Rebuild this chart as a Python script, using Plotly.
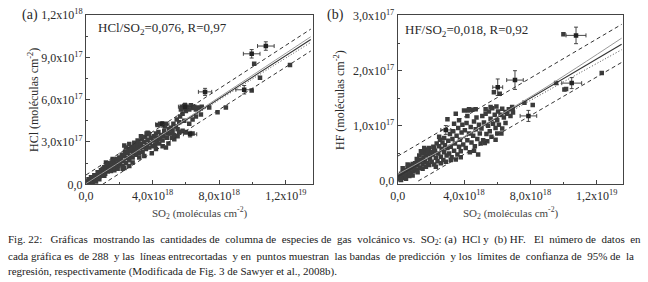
import plotly.graph_objects as go

W, H = 648, 282
XU = 1e18   # SO2 unit
YA = 1e17   # HCl unit
YB = 1e16   # HF unit

# ---- panel (a) HCl vs SO2 : (SO2 [1e18], HCl [1e17]) ----
hcl_points = [
    (0.05,0.1),(0.1,0.05),(0.12,0.2),(0.2,0.15),(0.25,0.3),(0.3,0.1),(0.35,0.35),(0.4,0.25),(0.45,0.45),(0.5,0.3),
    (0.55,0.5),(0.6,0.4),(0.65,0.6),(0.7,0.45),(0.75,0.7),(0.8,0.55),(0.85,0.8),(0.9,0.6),(0.95,0.85),(1.0,0.7),
    (0.15,0.35),(0.3,0.5),(0.5,0.65),(0.7,0.85),(0.9,1.0),(1.0,1.1),(0.2,0.0),(0.4,0.1),(0.6,0.2),(0.8,0.35),
    (1.05,0.9),(1.1,1.2),(1.15,0.75),(1.2,1.0),(1.25,1.3),(1.3,0.9),(1.35,1.1),(1.4,1.4),(1.45,1.0),(1.5,1.25),
    (1.55,1.55),(1.6,1.1),(1.65,1.35),(1.7,1.7),(1.75,1.2),(1.8,1.45),(1.85,1.8),(1.9,1.3),(1.95,1.6),(2.0,1.9),
    (1.1,0.6),(1.3,1.5),(1.5,0.95),(1.7,1.0),(1.9,1.1),(1.2,1.55),(1.6,1.8),(2.0,1.4),
    (2.05,1.5),(2.1,1.8),(2.15,2.1),(2.2,1.3),(2.25,1.65),(2.3,2.0),(2.35,2.3),(2.4,1.5),(2.45,1.85),(2.5,2.2),
    (2.55,2.5),(2.6,1.7),(2.65,2.0),(2.7,2.35),(2.75,2.65),(2.8,1.9),(2.85,2.2),(2.9,2.5),(2.95,2.8),(3.0,2.1),
    (2.2,1.1),(2.4,2.6),(2.6,1.3),(2.8,1.55),(3.0,2.45),(2.3,1.15),(2.3,2.75),(2.6,2.85),(2.9,2.95),
    (3.05,2.4),(3.1,2.7),(3.15,3.0),(3.2,2.2),(3.25,2.55),(3.3,2.85),(3.35,3.2),(3.4,2.3),(3.45,2.65),(3.5,3.0),
    (3.55,3.35),(3.6,2.5),(3.65,2.8),(3.7,3.15),(3.75,3.6),(3.8,2.6),(3.85,2.95),(3.9,3.3),(3.95,2.2),(4.0,2.7),
    (3.2,1.9),(3.5,2.0),(3.7,3.65),(3.3,3.4),(3.1,3.1),(3.64,3.6),(3.8,3.55),
    (4.05,3.1),(4.1,3.4),(4.15,2.8),(4.2,3.6),(4.25,3.0),(4.3,3.3),(4.35,3.7),(4.4,2.9),(4.45,3.2),(4.5,3.5),
    (4.6,3.1),(4.65,3.4),(4.7,3.8),(4.75,4.1),(4.8,2.6),(4.85,3.3),(4.9,3.6),(4.95,2.9),(5.0,3.9),
    (4.3,4.2),(4.45,4.3),(4.8,4.3),(4.2,2.5),(4.6,2.7),
    (5.05,3.6),(5.1,4.0),(5.15,3.3),(5.2,3.8),(5.25,4.3),(5.3,3.5),(5.4,4.1),(5.45,4.6),(5.5,3.9),(5.6,4.4),
    (5.65,4.8),(5.7,5.3),(5.75,5.5),(5.8,5.0),(5.85,5.4),(5.9,4.5),(5.95,5.6),(6.0,5.2),(5.3,3.2),(5.5,3.4),
    (5.6,3.7),(5.8,3.8),(6.0,3.7),(5.9,5.55),
    (6.1,5.5),(6.2,5.3),(6.3,5.6),(6.4,5.4),(6.5,5.5),(6.6,5.3),(6.7,5.45),(6.85,5.4),(6.95,5.5),(6.2,4.3),
    (6.4,4.6),(6.6,4.8),(6.4,3.6),(6.9,4.95),
    (7.4,5.45),(7.9,5.1),(8.4,5.45),(9.95,6.65),(10.1,8.55),(10.45,7.55),(12.25,8.45),
]
# points with error bars: (x, y, ex, ey)
hcl_err = [
    (10.8,9.8,0.5,0.3),(9.95,9.25,0.5,0.3),(7.15,6.55,0.4,0.25),(4.58,4.25,0.4,0.2),
    (5.95,5.5,0.4,0.25),(6.25,3.55,0.4,0.2),(9.5,6.7,0.5,0.3),
]
# regression, prediction (dashed) and confidence (dotted) lines
hcl_fit_x = [0.0, 13.5]
hcl_fit_y = [0.0, 10.26]
hcl_pred_up_x = [0.0, 13.5]
hcl_pred_up_y = [0.66, 11.0]
hcl_pred_lo_x = [1.0, 13.5]
hcl_pred_lo_y = [0.0, 9.45]
hcl_conf_x = [0.0, 3.0, 6.0, 9.0, 13.5]
hcl_conf_up_y = [0.05, 2.31, 4.62, 6.95, 10.46]
hcl_conf_lo_y = [-0.05, 2.25, 4.50, 6.73, 10.06]

# ---- panel (b) HF vs SO2 : (SO2 [1e18], HF [1e16]) ----
hf_points = [
    (0.05,0.5),(0.1,1.0),(0.15,0.3),(0.2,1.3),(0.25,0.8),(0.3,1.6),(0.35,0.6),(0.4,1.2),(0.45,2.0),(0.5,1.0),
    (0.55,1.6),(0.6,2.4),(0.65,1.2),(0.7,2.0),(0.75,2.8),(0.8,1.5),(0.85,2.3),(0.9,3.1),(0.95,1.8),(1.0,2.6),
    (0.2,0.2),(0.5,0.4),(0.7,0.9),(0.9,1.0),(0.3,2.3),(0.6,3.0),
    (1.05,3.2),(1.1,2.0),(1.15,4.0),(1.2,2.8),(1.25,3.5),(1.3,4.6),(1.35,2.4),(1.4,3.8),(1.45,5.0),(1.5,3.0),
    (1.55,4.2),(1.6,5.3),(1.65,3.5),(1.7,4.6),(1.75,5.7),(1.8,3.2),(1.85,4.9),(1.9,6.0),(1.95,4.0),(2.0,5.2),
    (1.2,1.6),(1.5,2.2),(1.7,2.6),(1.9,2.9),(1.6,6.0),(1.8,5.5),(1.4,5.4),
    (2.05,3.5),(2.1,4.8),(2.15,6.2),(2.2,3.0),(2.25,5.5),(2.3,4.2),(2.35,6.8),(2.4,3.6),(2.45,5.0),(2.5,6.3),
    (2.55,7.5),(2.6,4.4),(2.65,5.8),(2.7,7.0),(2.75,3.8),(2.8,5.2),(2.85,6.5),(2.95,4.6),(3.0,6.0),
    (2.3,2.6),(2.6,3.2),(2.9,3.5),(2.5,8.0),(2.8,7.8),(2.2,6.0),
    (3.05,7.3),(3.1,5.0),(3.15,8.5),(3.2,6.2),(3.25,4.3),(3.3,7.6),(3.35,9.0),(3.4,5.5),(3.45,6.8),(3.5,12.2),
    (3.55,8.2),(3.6,4.8),(3.65,9.6),(3.7,6.2),(3.75,7.5),(3.8,5.4),(3.85,8.8),(3.9,10.2),(3.95,6.6),(4.0,12.8),
    (3.2,3.8),(3.5,3.9),(3.8,4.3),(3.0,11.2),(3.4,10.4),(3.7,11.0),
    (4.05,9.2),(4.1,6.0),(4.15,10.5),(4.2,7.4),(4.25,12.8),(4.3,8.6),(4.35,5.2),(4.4,9.8),(4.45,7.0),(4.5,12.9),
    (4.55,8.2),(4.6,10.8),(4.65,6.3),(4.7,9.4),(4.75,11.5),(4.8,7.6),(4.85,4.8),(4.9,10.2),(4.95,8.6),(5.0,6.8),
    (4.3,13.0),(4.7,13.0),(4.2,11.8),(4.6,5.5),
    (5.05,9.5),(5.1,11.8),(5.15,7.4),(5.2,10.6),(5.25,6.9),(5.3,12.2),(5.35,8.5),(5.4,7.2),(5.45,10.0),(5.5,12.6),
    (5.55,9.0),(5.6,11.3),(5.65,8.0),(5.7,13.2),(5.75,10.4),(5.8,16.1),(5.85,12.0),(5.9,9.6),(5.95,13.5),(6.0,11.0),
    (5.3,13.0),(5.6,13.4),(5.9,7.5),(6.0,8.6),
    (6.05,12.6),(6.1,10.2),(6.15,15.8),(6.2,12.0),(6.25,8.6),(6.3,13.1),(6.4,11.5),(6.5,12.5),(6.6,12.2),(6.7,13.0),
    (6.8,11.8),(6.9,13.4),(6.95,12.4),(6.3,9.5),(6.5,10.5),
    (7.64,14.2),(8.14,13.8),(9.55,17.75),(9.99,26.6),(10.05,16.6),(10.15,16.7),(12.3,19.6),(6.93,13.1),
]
hf_err = [
    (6.03,17.0,0.3,1.5),(7.07,18.3,0.5,1.7),(7.88,11.8,0.5,1.0),(10.75,26.4,0.6,1.5),
    (10.49,17.75,0.6,1.0),(2.9,9.25,0.3,0.8),
]
hf_fit_x = [0.0, 13.5]
hf_fit_y = [0.8, 24.8]
hf_pred_up_x = [0.0, 13.5]
hf_pred_up_y = [4.5, 28.4]
hf_pred_lo_x = [1.24, 13.5]
hf_pred_lo_y = [0.0, 21.5]
hf_conf_x = [0.0, 3.0, 6.0, 9.0, 13.5]
hf_conf_up_y = [1.2, 6.25, 11.65, 17.1, 25.9]
hf_conf_lo_y = [0.4, 5.95, 11.2, 16.3, 23.8]

# tick labels
xa_tickvals = [0, 4, 8, 12]
xa_ticktext = ["0,0", "4,0x10<sup>18</sup>", "8,0x10<sup>18</sup>", "1,2x10<sup>19</sup>"]
xa_minor = [2, 6, 10]
ya_tickvals = [0, 3, 6, 9, 12]
ya_ticktext = ["0,0", "3,0x10<sup>17</sup>", "6,0x10<sup>17</sup>", "9,0x10<sup>17</sup>", "1,2x10<sup>18</sup>"]
ya_minor = [1.5, 4.5, 7.5, 10.5]
yb_tickvals = [0, 10, 20, 30]
yb_ticktext = ["0,0", "1,0x10<sup>17</sup>", "2,0x10<sup>17</sup>", "3,0x10<sup>17</sup>"]
yb_minor = [5, 15, 25]

caption_lines = [
    "Fig. 22:  Gráficas mostrando las cantidades de columna de especies de gas volcánico vs. SO<sub>2</sub>: (a) HCl y (b) HF.  El número de datos en",
    "cada gráfica es de 288 y las líneas entrecortadas y en puntos muestran las bandas de predicción y los límites de confianza de 95% de la",
    "regresión, respectivamente (Modificada de Fig. 3 de Sawyer et al., 2008b).",
]

FONT = "Liberation Serif"
INK = "#2a2a2a"
MK = "#3c3c3c"

fig = go.Figure()

def add_panel(xr, yr, pts, errs, yunit, fit, pu, pl, conf):
    xs = [p[0] * XU for p in pts]
    ys = [p[1] * yunit for p in pts]
    fig.add_trace(go.Scatter(x=xs, y=ys, mode="markers", xaxis=xr, yaxis=yr,
                             marker=dict(symbol="square", size=4.5, color=MK, line=dict(width=0)),
                             showlegend=False))
    fig.add_trace(go.Scatter(x=[e[0] * XU for e in errs], y=[e[1] * yunit for e in errs],
                             mode="markers", xaxis=xr, yaxis=yr,
                             marker=dict(symbol="square", size=4.5, color="#222"),
                             error_x=dict(type="data", array=[e[2] * XU for e in errs], width=2, thickness=0.9, color="#333"),
                             error_y=dict(type="data", array=[e[3] * yunit for e in errs], width=2, thickness=0.9, color="#333"),
                             showlegend=False))
    fx, fy = fit
    fig.add_trace(go.Scatter(x=[v * XU for v in fx], y=[v * yunit for v in fy], mode="lines",
                             xaxis=xr, yaxis=yr, line=dict(color="#333", width=1.1), showlegend=False))
    for (lx, ly) in (pu, pl):
        fig.add_trace(go.Scatter(x=[v * XU for v in lx], y=[v * yunit for v in ly], mode="lines",
                                 xaxis=xr, yaxis=yr, line=dict(color="#333", width=1, dash="4px,3px"),
                                 showlegend=False))
    cx, cu, cl = conf
    fig.add_trace(go.Scatter(x=[v * XU for v in cx], y=[v * yunit for v in cu], mode="lines",
                             xaxis=xr, yaxis=yr, line=dict(color="#9a9a9a", width=1, shape="spline"),
                             showlegend=False))
    fig.add_trace(go.Scatter(x=[v * XU for v in cx], y=[v * yunit for v in cl], mode="lines",
                             xaxis=xr, yaxis=yr, line=dict(color="#444", width=1, dash="1px,2px", shape="spline"),
                             showlegend=False))

add_panel("x", "y", hcl_points, hcl_err, YA,
          (hcl_fit_x, hcl_fit_y), (hcl_pred_up_x, hcl_pred_up_y), (hcl_pred_lo_x, hcl_pred_lo_y),
          (hcl_conf_x, hcl_conf_up_y, hcl_conf_lo_y))
add_panel("x2", "y2", hf_points, hf_err, YB,
          (hf_fit_x, hf_fit_y), (hf_pred_up_x, hf_pred_up_y), (hf_pred_lo_x, hf_pred_lo_y),
          (hf_conf_x, hf_conf_up_y, hf_conf_lo_y))

def px(x): return x / W
def py(y): return 1 - y / H

axis_common = dict(showline=True, mirror=True, linecolor="#444", linewidth=1, automargin=False,
                   ticks="inside", ticklen=4, tickcolor="#444", showgrid=False, zeroline=False,
                   tickfont=dict(family=FONT, size=12, color=INK))

ydom = [py(184.3), py(15)]
fig.update_layout(
    template="none",
    width=W, height=H, margin=dict(l=0, r=0, t=0, b=0, autoexpand=False),
    paper_bgcolor="white", plot_bgcolor="white",
    xaxis=dict(domain=[px(86), px(313.3)], range=[0, 13.65 * XU], anchor="y",
               tickvals=[v * XU for v in xa_tickvals], ticktext=xa_ticktext,
               minor=dict(tickvals=[v * XU for v in xa_minor], ticks="inside", ticklen=2, tickcolor="#444"),
               **axis_common),
    yaxis=dict(domain=ydom, range=[0, 12 * YA], anchor="x",
               tickvals=[v * YA for v in ya_tickvals], ticktext=ya_ticktext,
               minor=dict(tickvals=[v * YA for v in ya_minor], ticks="inside", ticklen=2, tickcolor="#444"),
               **axis_common),
    xaxis2=dict(domain=[px(397.7), px(623.3)], range=[0, 13.6 * XU], anchor="y2",
                tickvals=[v * XU for v in xa_tickvals], ticktext=xa_ticktext,
                minor=dict(tickvals=[v * XU for v in xa_minor], ticks="inside", ticklen=2, tickcolor="#444"),
                **axis_common),
    yaxis2=dict(domain=ydom, range=[-0.6 * YB, 30.1 * YB], anchor="x2",
                tickvals=[v * YB for v in yb_tickvals], ticktext=yb_ticktext,
                minor=dict(tickvals=[v * YB for v in yb_minor], ticks="inside", ticklen=2, tickcolor="#444"),
                **axis_common),
    font=dict(family=FONT, color=INK),
    hovermode=False,
)

ann = []
def text(x, y, s, size, xanchor="center", yanchor="middle", angle=0, color=INK):
    ann.append(dict(x=px(x), y=py(y), xref="paper", yref="paper", text=s, showarrow=False,
                    xanchor=xanchor, yanchor=yanchor, textangle=angle,
                    font=dict(family=FONT, size=size, color=color)))

def justify(line, extra):
    words = line.split(" ")
    gaps = len(words) - 1
    out = words[0]
    for i in range(gaps):
        k = (extra * (i + 1)) // gaps - (extra * i) // gaps
        out += " " + "\u00a0" * k + words[i + 1]
    return out

text(30, 15, "(a)", 14)
text(335, 15, "(b)", 14)
text(96, 29, "HCl/SO<sub>2</sub>=0,076, R=0,97", 13, xanchor="left")
text(403, 31, "HF/SO<sub>2</sub>=0,018, R=0,92", 13, xanchor="left")
text(33, 100, "HCl (moléculas cm<sup>-2</sup>)", 12, angle=-90)
text(339, 100, "HF (moléculas cm<sup>-2</sup>)", 12, angle=-90)
text(200, 213, "SO<sub>2</sub> (moléculas cm<sup>-2</sup>)", 11, color="#444")
text(511, 213, "SO<sub>2</sub> (moléculas cm<sup>-2</sup>)", 11, color="#444")
extras = [14, 12, 0]
for yy, line, ex in zip([240, 256, 271], caption_lines, extras):
    text(6, yy, justify(line, ex), 11, xanchor="left", color="#1a1a1a")

fig.update_layout(annotations=ann)
fig.write_html("out.html", config={"displayModeBar": False, "staticPlot": True},
               post_script="document.body.style.margin='0';document.body.style.padding='0';")
